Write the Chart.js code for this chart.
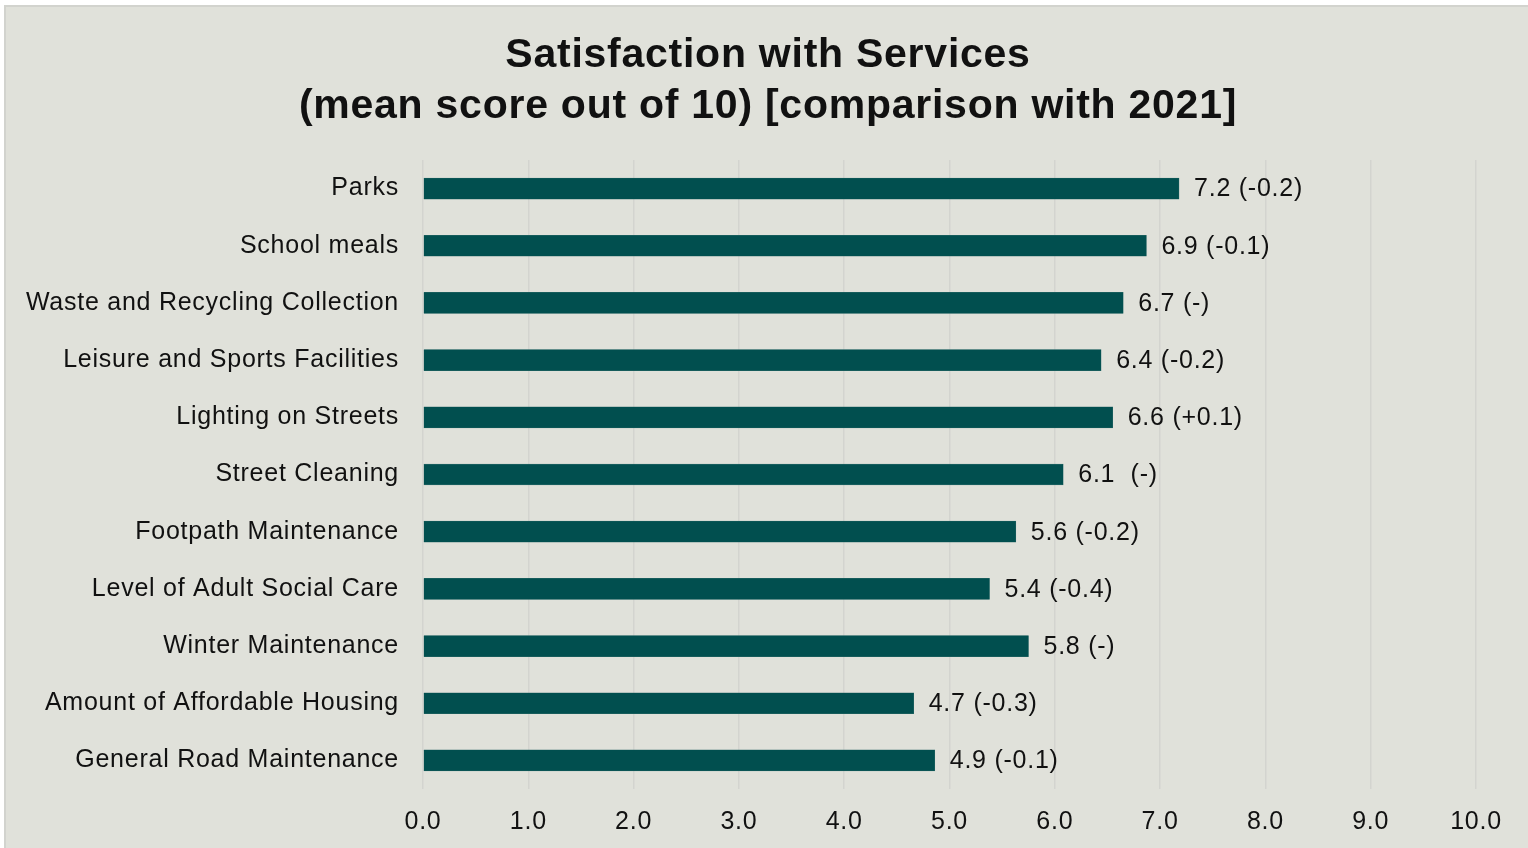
<!DOCTYPE html>
<html>
<head>
<meta charset="utf-8">
<title>Satisfaction with Services</title>
<script src="https://cdn.jsdelivr.net/npm/chart.js@4"></script>
<style>
  html, body { margin: 0; padding: 0; background: #ffffff; overflow: hidden; }
  #panel {
    position: absolute;
    left: 4px;
    top: 5px;
    width: 1524px;
    height: 843px;
    background: #e0e1da;
    border-left: 2px solid #d2d3ce;
    border-top: 2px solid #d2d3ce;
  }
  #chartBox { position: absolute; left: 0; top: 0; width: 1522px; height: 841px; }
</style>
</head>
<body>
<div id="panel">
  <div id="chartBox"><canvas id="servicesChart"></canvas></div>
</div>
<script>
/* ===============================
   DATA
================================ */
const services = [
  "Parks",
  "School meals",
  "Waste and Recycling Collection",
  "Leisure and Sports Facilities",
  "Lighting on Streets",
  "Street Cleaning",
  "Footpath Maintenance",
  "Level of Adult Social Care",
  "Winter Maintenance",
  "Amount of Affordable Housing",
  "General Road Maintenance",
];

// bar lengths as drawn
const scores = [7.18, 6.87, 6.65, 6.44, 6.55, 6.08, 5.63, 5.38, 5.75, 4.66, 4.86];

// printed score and change vs 2021
const scoreLabels = ["7.2", "6.9", "6.7", "6.4", "6.6", "6.1 ", "5.6", "5.4", "5.8", "4.7", "4.9"];
const changes = ["(-0.2)", "(-0.1)", "(-)", "(-0.2)", "(+0.1)", "(-)", "(-0.2)", "(-0.4)", "(-)", "(-0.3)", "(-0.1)"];

const xTicks = [0, 1, 2, 3, 4, 5, 6, 7, 8, 9, 10];

const titleLines = ["Satisfaction with Services", "(mean score out of 10) [comparison with 2021]"];

/* ===============================
   STYLE
================================ */
const BAR_COLOR = "#014f4f";
const GRID_COLOR = "#d3d4cf";
const TEXT_COLOR = "#111111";
const FONT = "'Liberation Sans', Arial, sans-serif";
const SPACING = "0.75px";

/* slightly wider letter spacing, like the original */
const letterSpacing = {
  id: "letterSpacing",
  beforeLayout(chart) {
    chart.ctx.letterSpacing = SPACING;
  },
  beforeDraw(chart) {
    chart.ctx.letterSpacing = SPACING;
  },
};

/* title centred on the whole panel */
const panelTitle = {
  id: "panelTitle",
  afterDraw(chart) {
    const { ctx } = chart;
    ctx.save();
    ctx.letterSpacing = SPACING;
    ctx.font = "bold 41px " + FONT;
    ctx.fillStyle = TEXT_COLOR;
    ctx.textAlign = "center";
    ctx.textBaseline = "middle";
    titleLines.forEach((line, i) => {
      ctx.fillText(line, chart.width / 2 + 1, 49 + i * 51);
    });
    ctx.restore();
  },
};

/* value labels at the end of each bar */
const endLabels = {
  id: "endLabels",
  afterDatasetsDraw(chart) {
    const { ctx } = chart;
    const meta = chart.getDatasetMeta(0);
    ctx.save();
    ctx.letterSpacing = SPACING;
    ctx.font = "25px " + FONT;
    ctx.fillStyle = TEXT_COLOR;
    ctx.textAlign = "left";
    ctx.textBaseline = "middle";
    meta.data.forEach((bar, i) => {
      ctx.fillText(scoreLabels[i] + " " + changes[i], bar.x + 15, bar.y + 1);
    });
    ctx.restore();
  },
};

new Chart(document.getElementById("servicesChart"), {
  type: "bar",
  data: {
    labels: services,
    datasets: [
      {
        data: scores,
        backgroundColor: BAR_COLOR,
        borderColor: "#2d6a69",
        borderWidth: 0.5,
        barThickness: 21,
      },
    ],
  },
  options: {
    indexAxis: "y",
    responsive: true,
    maintainAspectRatio: false,
    animation: false,
    layout: { padding: { left: 0, right: 52, top: 153, bottom: 0 } },
    plugins: {
      legend: { display: false },
      tooltip: { enabled: false },
      title: { display: false },
    },
    scales: {
      x: {
        min: 0,
        max: 10,
        afterBuildTicks: (scale) => {
          scale.ticks = xTicks.map((v) => ({ value: v }));
        },
        afterFit: (scale) => {
          scale.height = 59;
        },
        grid: { color: GRID_COLOR, lineWidth: 1.5, drawTicks: false },
        border: { display: false },
        ticks: {
          color: TEXT_COLOR,
          font: { family: FONT, size: 25 },
          padding: 18,
          callback: (v) => Number(v).toFixed(1),
        },
      },
      y: {
        afterFit: (scale) => {
          scale.width = 417;
        },
        grid: { display: false, drawTicks: false },
        border: { display: false },
        ticks: {
          color: TEXT_COLOR,
          font: { family: FONT, size: 25 },
          padding: 24,
        },
      },
    },
  },
  plugins: [letterSpacing, panelTitle, endLabels],
});
</script>
</body>
</html>
